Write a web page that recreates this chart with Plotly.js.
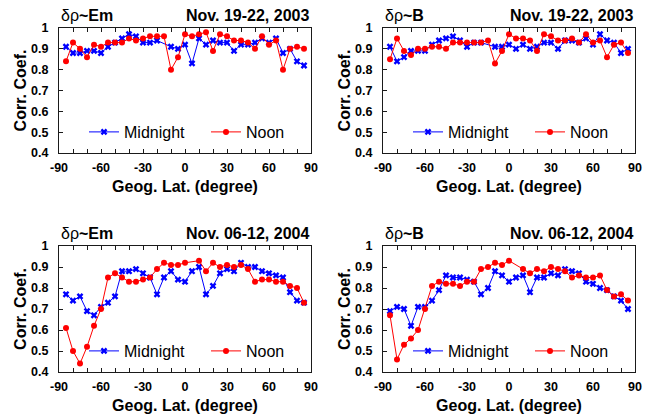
<!DOCTYPE html>
<html>
<head>
<meta charset="utf-8">
<script src="https://cdn.plot.ly/plotly-3.0.1.min.js"></script>
<style>html,body{margin:0;padding:0;background:#fff;}#chart{width:657px;height:416px;}</style>
</head>
<body>
<div id="chart"></div>
<script>
// Geographic latitude bins (degree)
const lat = [-85,-80,-75,-70,-65,-60,-55,-50,-45,-40,-35,-30,-25,-20,-15,-10,-5,0,5,10,15,20,25,30,35,40,45,50,55,60,65,70,75,80,85];

// Nov. 19-22, 2003 : δρ~Em
const emMid2003  = [0.91,0.88,0.88,0.89,0.89,0.88,0.91,0.93,0.95,0.97,0.96,0.93,0.93,0.94,null,0.91,0.90,0.92,0.83,0.95,0.92,0.94,0.93,0.93,0.89,0.92,0.92,0.93,0.95,0.93,0.95,0.88,0.90,0.84,0.82];
const emNoon2003 = [0.84,0.93,0.90,0.86,0.92,0.91,0.93,0.93,0.93,0.95,0.94,0.95,0.96,0.96,0.96,0.80,0.86,0.97,0.96,0.97,0.98,0.89,0.97,0.96,0.94,0.94,0.93,0.90,0.96,0.92,0.94,0.80,0.90,0.91,0.90];
// Nov. 19-22, 2003 : δρ~B
const bMid2003   = [0.91,0.84,0.86,0.89,0.89,0.89,0.92,0.94,0.95,0.96,0.94,0.91,0.93,0.93,null,0.91,0.91,0.92,0.90,0.92,0.90,0.91,0.93,0.93,0.90,0.94,0.94,0.93,0.95,0.92,0.97,0.94,0.93,0.88,0.90];
const bNoon2003  = [0.85,0.95,0.89,0.87,0.90,0.90,0.91,0.91,0.90,0.93,0.93,0.93,0.93,0.93,0.94,0.83,0.89,0.97,0.95,0.95,0.94,0.89,0.97,0.96,0.94,0.94,0.95,0.93,0.97,0.93,0.94,0.86,0.92,0.93,0.88];
// Nov. 06-12, 2004 : δρ~Em
const emMid2004  = [0.77,0.74,0.76,0.69,0.67,0.71,0.73,0.76,0.88,0.88,0.89,0.87,0.85,0.77,0.85,0.88,0.84,0.83,0.88,0.90,0.77,0.81,0.87,0.89,0.88,0.92,0.90,0.90,0.88,0.87,0.86,0.85,0.78,0.74,0.73];
const emNoon2004 = [0.61,0.50,0.44,0.52,0.62,0.70,0.85,0.87,0.85,0.83,0.83,0.84,0.85,0.89,0.92,0.91,0.91,0.92,null,0.93,0.88,0.92,0.90,0.91,0.90,0.91,0.89,0.83,0.84,0.84,0.83,0.83,0.81,0.80,0.73];
// Nov. 06-12, 2004 : δρ~B
const bMid2004   = [0.69,0.71,0.70,0.62,0.71,0.71,0.74,0.79,0.86,0.85,0.85,0.84,0.83,0.77,0.80,0.88,0.86,0.83,0.85,0.86,0.78,0.85,0.85,0.87,0.86,0.89,0.88,0.87,0.83,0.82,0.80,0.79,0.76,0.74,0.70];
const bNoon2004  = [0.67,0.46,0.53,0.56,0.60,0.70,0.81,0.83,0.82,0.82,0.81,0.83,0.83,0.89,0.90,0.92,0.91,0.93,null,0.89,0.87,0.89,0.88,0.90,0.89,0.88,0.85,0.86,0.85,0.85,0.86,0.79,0.76,0.77,0.74];

// Tick labels
const xTickVals = [-90,-60,-30,0,30,60,90];
const xTickText = ['-90','-60','-30','0','30','60','90'];
const yTickVals = [0.4,0.5,0.6,0.7,0.8,0.9,1];
const yTickText = ['0.4','0.5','0.6','0.7','0.8','0.9','1'];

const seriesNames = ['Midnight','Noon'];
const leftTitles  = ['δρ<b>~Em</b>','δρ<b>~B</b>','δρ<b>~Em</b>','δρ<b>~B</b>'];
const rightTitles = ['Nov. 19-22, 2003','Nov. 19-22, 2003','Nov. 06-12, 2004','Nov. 06-12, 2004'];
const panels = [
  {mid: emMid2003, noon: emNoon2003},
  {mid: bMid2003,  noon: bNoon2003},
  {mid: emMid2004, noon: emNoon2004},
  {mid: bMid2004,  noon: bNoon2004}
];

const W = 657, H = 416;
const FONT = 'Arial, "Liberation Sans", sans-serif';
const xDomains = [[59/W, 311/W],[383/W, 635/W]];
const yDomains = [[1-153/H, 1-28/H],[1-372/H, 1-246/H]];
const frame = '#1a1a1a';

const data = [];
const layout = {
  width: W, height: H,
  margin: {l:0, r:0, t:0, b:0},
  paper_bgcolor: '#fff', plot_bgcolor: '#fff',
  font: {family: FONT, color: '#000'},
  showlegend: true,
  annotations: []
};

panels.forEach((p, i) => {
  const n = i + 1;
  const col = i % 2, row = Math.floor(i / 2);
  const xa = 'x' + (n === 1 ? '' : n), ya = 'y' + (n === 1 ? '' : n);
  const lg = 'legend' + (n === 1 ? '' : n);
  data.push({
    x: lat, y: p.mid, xaxis: xa, yaxis: ya, legend: lg,
    name: seriesNames[0], type: 'scatter', mode: 'lines+markers', connectgaps: true,
    line: {color: '#0000ff', width: 1},
    marker: {symbol: 'x', size: 6, color: '#0000ff'}
  });
  data.push({
    x: lat, y: p.noon, xaxis: xa, yaxis: ya, legend: lg,
    name: seriesNames[1], type: 'scatter', mode: 'lines+markers', connectgaps: true,
    line: {color: '#ff0000', width: 1},
    marker: {symbol: 'circle', size: 6, color: '#ff0000'}
  });
  const xk = 'xaxis' + (n === 1 ? '' : n), yk = 'yaxis' + (n === 1 ? '' : n);
  layout[xk] = {
    domain: xDomains[col], anchor: ya, range: [-90, 90], automargin: false,
    tickvals: xTickVals, ticktext: xTickText,
    ticks: 'inside', ticklen: 4, tickcolor: frame, tickwidth: 1,
    minor: {dtick: 10, tick0: -90, ticks: 'inside', ticklen: 4, tickcolor: frame, showgrid: false},
    showline: true, linecolor: frame, linewidth: 1, mirror: 'ticks',
    showgrid: false, zeroline: false,
    tickfont: {family: FONT, size: 12.5, weight: 'bold', color: '#000'},
    ticklabelstandoff: 3,
    title: {text: 'Geog. Lat. (degree)', font: {family: FONT, size: 16, weight: 'bold', color: '#000'}, standoff: 6}
  };
  layout[yk] = {
    domain: yDomains[row], anchor: xa, range: [0.4, 1], automargin: false,
    tickvals: yTickVals, ticktext: yTickText,
    ticks: 'inside', ticklen: 4, tickcolor: frame, tickwidth: 1,
    showline: true, linecolor: frame, linewidth: 1, mirror: true,
    showgrid: false, zeroline: false,
    tickfont: {family: FONT, size: 12.5, weight: 'bold', color: '#000'},
    ticklabelstandoff: 7,
    title: {text: 'Corr. Coef.', font: {family: FONT, size: 16, weight: 'bold', color: '#000'}, standoff: 0}
  };
  // right-hand tick marks (quarter divisions, as in the original figure)
  const rk = 'yaxis' + (n + 4);
  layout[rk] = {
    overlaying: ya, anchor: xa, side: 'right', range: [0, 4], dtick: 1,
    ticks: 'inside', ticklen: 4, tickcolor: frame, showticklabels: false,
    showgrid: false, zeroline: false, showline: false, automargin: false
  };
  const legendY = row === 0 ? 1 - 132/H : 1 - 351/H;
  layout[lg] = {
    x: (92 - 8)/W + (col === 1 ? 324/W : 0), y: legendY,
    xanchor: 'left', yanchor: 'middle', orientation: 'h',
    bgcolor: 'rgba(0,0,0,0)', borderwidth: 0,
    font: {family: FONT, size: 16, color: '#000'},
    entrywidth: 77, entrywidthmode: 'pixels', itemwidth: 30
  };
  const titleY = row === 0 ? 1 - 16/H : 1 - 233/H;
  layout.annotations.push({
    text: leftTitles[i], xref: 'paper', yref: 'paper',
    x: xDomains[col][0], y: titleY, xanchor: 'left', yanchor: 'middle',
    showarrow: false, font: {family: FONT, size: 16, color: '#000'}
  });
  layout.annotations.push({
    text: '<b>' + rightTitles[i] + '</b>', xref: 'paper', yref: 'paper',
    x: xDomains[col][1], y: titleY, xanchor: 'right', yanchor: 'middle',
    showarrow: false, font: {family: FONT, size: 16, color: '#000'}
  });
});

Plotly.newPlot('chart', data, layout, {displayModeBar: false, staticPlot: true});
</script>
</body>
</html>
